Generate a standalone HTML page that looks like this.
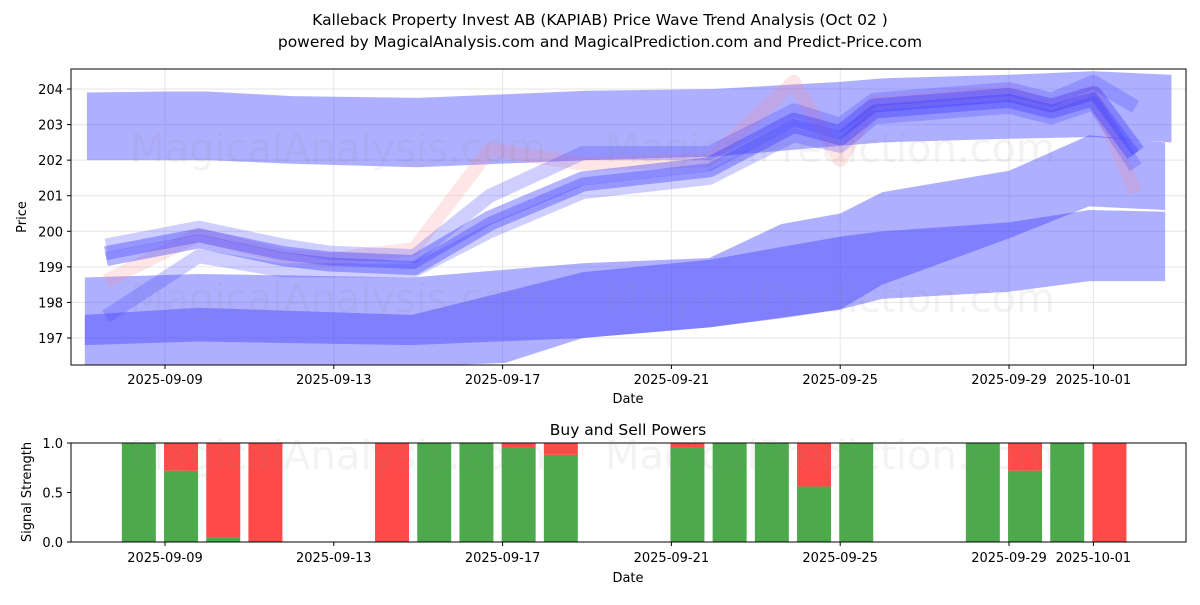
<!DOCTYPE html>
<html><head><meta charset="utf-8"><style>
body{margin:0;background:#fff;}
svg text{font-family:"DejaVu Sans","Liberation Sans",sans-serif;fill:#000;}
</style></head><body>
<svg id="c" width="1200" height="600" xmlns="http://www.w3.org/2000/svg">
<defs><clipPath id="clipMain"><rect x="71" y="69" width="1115" height="296"/></clipPath></defs>
<text x="600" y="25" text-anchor="middle" font-size="15.5">Kalleback Property Invest AB (KAPIAB) Price Wave Trend Analysis (Oct 02 )</text>
<text x="600" y="47" text-anchor="middle" font-size="15.5">powered by MagicalAnalysis.com and MagicalPrediction.com and Predict-Price.com</text>
<g id="main"></g>
<g id="sub"></g>
</svg>
<script>
// Day offsets relative to 2025-09-09
const xTickDays=[0,4,8,12,16,20,22];
const xTickLabels=["2025-09-09","2025-09-13","2025-09-17","2025-09-21","2025-09-25","2025-09-29","2025-10-01"];
const yTicks=[197,198,199,200,201,202,203,204];
// bands
const band1Days=[-1.85,0,1,3,6,10,13,16,17,20,22,23.85];
const band1Upper=[203.9,203.93,203.93,203.8,203.75,203.95,204,204.2,204.3,204.4,204.5,204.4];
const band1Lower=[202.0,202.0,202.0,201.9,201.8,202.0,202.1,202.4,202.5,202.6,202.65,202.5];
const band2Days=[-1.9,0.8,5.85,9.9,12.9,14.6,16,17,20,21.9,23.7];
const band2Upper=[198.7,198.8,198.7,199.1,199.25,200.2,200.5,201.1,201.7,202.7,202.5];
const band2Lower=[196.8,196.9,196.8,197.0,197.3,197.55,197.8,198.5,199.8,200.7,200.6];
const band3Days=[-1.9,0.8,5.85,8.06,9.9,12.9,16,17,20,21.9,23.7];
const band3Upper=[197.65,197.85,197.65,198.3,198.85,199.2,199.85,200.0,200.25,200.6,200.55];
const band3Lower=[196.2,196.2,196.2,196.3,197.0,197.3,197.8,198.1,198.3,198.6,198.6];
// price waves
const waveDays=[-1.4,0.8,2.8,3.9,5.9,7.7,9.9,12.9,14.9,16,16.8,20,21,22,23];
const waveMid=[199.3,199.8,199.3,199.15,199.05,200.3,201.4,201.8,203.05,202.7,203.45,203.75,203.45,203.8,202.2];
const waveLow=[197.6,199.3,198.9,198.9,198.9,200.0,201.1,201.5,202.7,202.4,203.2,203.5,203.2,203.6,201.8];
const waveHigh=[199.6,200.1,199.6,199.4,199.3,201.0,202.2,202.2,203.4,203.0,203.7,204.0,203.7,204.2,203.5];
const waveRed=[198.6,199.9,199.3,199.2,199.5,202.3,201.9,202.0,204.2,202.0,203.6,203.9,203.5,203.9,201.1];
// buy/sell powers
const barDays=[0,1,2,3,6,7,8,9,10,13,14,15,16,17,20,21,22,23];
const buyPower=[1,0.72,0.05,0,0,1,1,0.95,0.88,0.95,1,1,0.56,1,1,0.72,1,0];

const NS="http://www.w3.org/2000/svg";
const X=d=>165+d*42.2;
const Y=v=>89+(204-v)*35.57;
const YS=v=>542-v*99;
function mk(tag,attrs,parent){const e=document.createElementNS(NS,tag);for(const k in attrs)e.setAttribute(k,attrs[k]);parent.appendChild(e);return e;}
const main=document.getElementById('main'), sub=document.getElementById('sub');

xTickDays.forEach((d,i)=>{
 const g=mk('line',{x1:X(d),x2:X(d),y1:69,y2:365,stroke:'#e6e6e6','stroke-width':1},main);
 
 
 mk('line',{x1:X(d),x2:X(d),y1:365,y2:369,stroke:'#000'},main);
 const l=mk('text',{x:X(d),y:384,'text-anchor':'middle','font-size':13},main);l.textContent=xTickLabels[i];
 
 
});
yTicks.forEach(v=>{
 const g=mk('line',{x1:71,x2:1186,y1:Y(v),y2:Y(v),stroke:'#e6e6e6'},main);
 
 
 mk('line',{x1:67,x2:71,y1:Y(v),y2:Y(v),stroke:'#000'},main);
 const l=mk('text',{x:63,y:Y(v)+5,'text-anchor':'end','font-size':13},main);l.textContent=v;
 
 
});
const plot=mk('g',{'clip-path':'url(#clipMain)'},main);
function band(days,up,lo,name,op){
 let p=days.map((d,i)=>X(d)+','+Y(up[i]));
 for(let i=days.length-1;i>=0;i--)p.push(X(days[i])+','+Y(lo[i]));
 const e=mk('polygon',{points:p.join(' '),fill:'#4040ff','fill-opacity':op},plot);
 
 
}
band(band1Days,band1Upper,band1Lower,'upper-band',0.42);
band(band2Days,band2Upper,band2Lower,'middle-band',0.42);
band(band3Days,band3Upper,band3Lower,'lower-band',0.42);
function wave(vals,color,w,op,name){
 const e=mk('polyline',{points:waveDays.map((d,i)=>X(d)+','+Y(vals[i])).join(' '),fill:'none',stroke:color,'stroke-width':w,'stroke-opacity':op,'stroke-linejoin':'round'},plot);
 
 
}
wave(waveRed,'#ff8080',14,0.2,'red-wave');
wave(waveLow,'#4040ff',14,0.25,'low-wave');
wave(waveHigh,'#4040ff',14,0.25,'high-wave');
wave(waveMid,'#4040ff',20,0.4,'mid-wave');
wave(waveMid,'#3030ff',8,0.3,'mid-wave-core');
[[130,148,'MagicalAnalysis.com'],[605,148,'MagicalPrediction.com'],[130,298,'MagicalAnalysis.com'],[605,298,'MagicalPrediction.com'],[130,455,'MagicalAnalysis.com'],[605,455,'MagicalPrediction.com']].forEach(w=>{
 const t=mk('text',{x:w[0],y:w[1]+14,'font-size':40,style:'fill:#888;fill-opacity:0.1'},document.getElementById('c'));t.textContent=w[2];
 
 
});
const f1=mk('rect',{x:71,y:69,width:1115,height:296,fill:'none',stroke:'#000'},main);


const ylab=mk('text',{x:0,y:0,transform:'translate(26,217) rotate(-90)','text-anchor':'middle','font-size':13},main);ylab.textContent='Price';


const xlab=mk('text',{x:628,y:403,'text-anchor':'middle','font-size':13},main);xlab.textContent='Date';



const st=mk('text',{x:628,y:435,'text-anchor':'middle','font-size':15.5},sub);st.textContent='Buy and Sell Powers';


barDays.forEach((d,i)=>{
 const cx=X(d-0.62), w=34;
 const g=mk('rect',{x:cx-w/2,y:YS(buyPower[i]),width:w,height:buyPower[i]*99,fill:'#4caa4c'},sub);
 
 
 const r=mk('rect',{x:cx-w/2,y:YS(1),width:w,height:(1-buyPower[i])*99,fill:'#ff4a4a'},sub);
 
 
});
[0,0.5,1].forEach(v=>{
 mk('line',{x1:67,x2:71,y1:YS(v),y2:YS(v),stroke:'#000'},sub);
 const l=mk('text',{x:63,y:YS(v)+5,'text-anchor':'end','font-size':13},sub);l.textContent=v.toFixed(1);
 
 
});
xTickDays.forEach((d,i)=>{
 mk('line',{x1:X(d),x2:X(d),y1:542,y2:546,stroke:'#000'},sub);
 const l=mk('text',{x:X(d),y:562,'text-anchor':'middle','font-size':13},sub);l.textContent=xTickLabels[i];
 
 
});
const f2=mk('rect',{x:71,y:443,width:1115,height:99,fill:'none',stroke:'#000'},sub);


const yl2=mk('text',{x:0,y:0,transform:'translate(31,492) rotate(-90)','text-anchor':'middle','font-size':13},sub);yl2.textContent='Signal Strength';


const xl2=mk('text',{x:628,y:582,'text-anchor':'middle','font-size':13},sub);xl2.textContent='Date';


</script>
</body></html>
